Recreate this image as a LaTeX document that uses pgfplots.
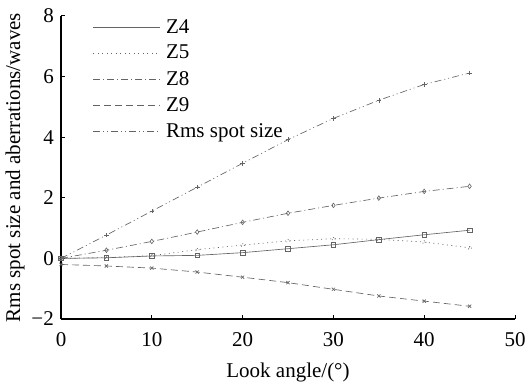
\documentclass[border=0pt]{standalone}
\usepackage{fontspec}
\setmainfont{Liberation Serif}
\usepackage{pgfplots}
\pgfplotsset{compat=1.18}
\definecolor{lc}{RGB}{100,100,100}
\begin{document}
\fontsize{21bp}{25bp}\selectfont
\begin{tikzpicture}
\begin{axis}[
  name=ax,
  scale only axis,
  width=454bp, height=303bp,
  xmin=0, xmax=50, ymin=-2, ymax=8,
  axis lines=left,
  axis line style={-, line width=1.3bp, black},
  tick align=inside,
  major tick length=4bp,
  tick style={black, line width=1bp},
  xtick={0,10,20,30,40,50},
  ytick={-2,0,2,4,6,8},
  yticklabels={−2,0,2,4,6,8},
  xticklabels={0,10,20,30,40,50},
  ticklabel style={font=\fontsize{21bp}{25bp}\selectfont},
  xticklabel style={yshift=-6bp},
  label style={font=\fontsize{21bp}{25bp}\selectfont},
  xlabel={Look angle/(°)},
  ylabel={Rms spot size and aberrations/waves},
  xlabel style={at={(axis description cs:0.5,-0.176)}, anchor=center},
  ylabel style={at={(axis description cs:-0.1013,0.5)}, anchor=center},
  legend style={draw=none, fill=none, at={(axis description cs:0.07,0.995)}, anchor=north west,
    font=\fontsize{21bp}{25bp}\selectfont, row sep=6bp, inner sep=0pt,
    nodes={inner sep=1.5bp}},
  legend cell align=left,
  legend image code/.code={\draw[#1] (0bp,0bp) -- (67bp,0bp); \path (71bp,0bp);},
  every axis plot/.append style={lc, line width=0.65bp, mark size=2.3bp, mark options={solid, line width=0.6bp}},
  clip=false,
]
\addplot[mark=square] coordinates {(0,0)(5,0.02)(10,0.08)(15,0.10)(20,0.19)(25,0.32)(30,0.45)(35,0.62)(40,0.78)(45,0.93)};
\addlegendentry{Z4}
\addplot[dash pattern=on 1bp off 3.5bp, mark=triangle, mark options={rotate=-90}] coordinates {(0,0)(5,0.03)(10,0.09)(15,0.29)(20,0.44)(25,0.58)(30,0.65)(35,0.63)(40,0.54)(45,0.35)};
\addlegendentry{Z5}
\addplot[dash pattern=on 7bp off 3bp on 1bp off 3bp, mark=diamond] coordinates {(0,0)(5,0.27)(10,0.56)(15,0.87)(20,1.19)(25,1.49)(30,1.75)(35,1.99)(40,2.21)(45,2.38)};
\addlegendentry{Z8}
\addplot[dash pattern=on 7bp off 4bp, mark=x] coordinates {(0,-0.2)(5,-0.25)(10,-0.32)(15,-0.45)(20,-0.62)(25,-0.80)(30,-1.02)(35,-1.24)(40,-1.41)(45,-1.58)};
\addlegendentry{Z9}
\addplot[dash pattern=on 7bp off 3bp on 1bp off 3bp on 1bp off 3bp, mark=+] coordinates {(0,0)(5,0.77)(10,1.56)(15,2.35)(20,3.14)(25,3.92)(30,4.62)(35,5.22)(40,5.74)(45,6.12)};
\addlegendentry{Rms spot size}
\end{axis}
\pgfresetboundingbox
\path ([shift={(-61bp,-64bp)}]ax.south west) rectangle ([shift={(13bp,16bp)}]ax.north east);
\end{tikzpicture}
\end{document}
